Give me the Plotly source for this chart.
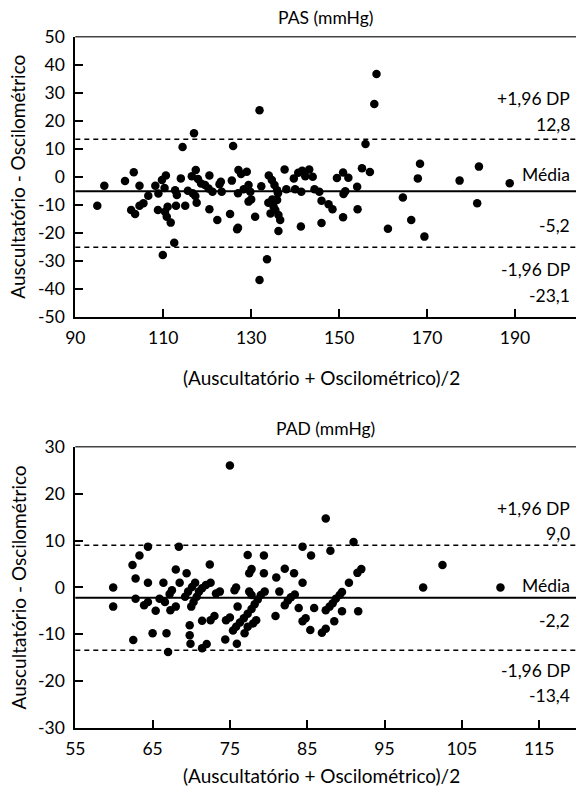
import plotly.graph_objects as go

W, H = 576, 793
FONT = "Lato"
FS = 17.5

# ---- PAS (systolic) : mean of methods vs difference ----
pas_x = [95.0, 96.6, 101.3, 102.7, 103.3, 103.6, 104.6, 104.6, 105.5, 106.6,
         108.2, 108.8, 108.9, 109.7, 110.3, 110.6, 110.4, 111.0, 110.8, 111.7,
         112.5, 109.9, 112.7, 113.1, 112.9, 114.0, 114.4, 115.0, 115.6, 116.5,
         116.7, 117.0, 117.4, 117.3, 117.6, 117.9, 118.6, 119.5, 120.3, 120.5,
         120.5, 121.2, 122.3, 123.1, 123.3, 125.2, 125.6, 125.9, 126.8, 127.0,
         127.1, 127.7, 127.0, 128.3, 129.0, 129.4, 129.8, 129.4, 130.0, 130.9,
         131.9, 131.9, 132.3, 133.6, 134.0, 134.7, 135.3, 135.9, 136.1, 133.9,
         134.8, 135.9, 135.1, 134.4, 135.5, 136.2, 136.6, 136.2, 137.6, 138.0,
         139.7, 140.7, 141.6, 142.3, 143.2, 144.0, 140.0, 141.4, 141.3, 144.4,
         145.5, 146.0, 147.6, 148.5, 146.0, 149.5, 150.9, 151.0, 151.4, 152.1,
         150.9, 154.2, 154.1, 155.2, 156.0, 157.0, 158.0, 158.5, 161.1, 164.5,
         166.4, 167.9, 168.4, 169.4, 177.4, 181.4, 181.8, 188.8, 122.8]
pas_y = [-10.4, -3.2, -1.5, -11.9, 1.6, -13.3, -3.2, -10.4, -9.5, -6.8,
         -3.2, -11.9, -6.0, -1.2, -4.0, 0.4, -12.5, -10.7, -14.3, -16.4,
         -23.6, -28.0, -4.8, -6.5, -10.4, -0.6, 10.6, -10.4, -5.0, 0.2,
         -5.9, 15.5, 2.4, -6.9, -9.3, -0.8, -2.4, -3.0, -4.2, 0.4,
         -11.6, -5.4, -15.5, -1.8, -5.4, -13.3, -1.4, 11.0, -18.8, -18.2,
         2.4, 1.0, -5.9, -4.5, 1.8, -3.0, -5.4, -8.9, -8.1, -14.3,
         23.7, -36.9, -3.4, -29.5, 0.4, -1.2, -3.0, -4.8, -5.9, -9.3,
         -8.1, -8.3, -10.7, -13.1, -11.9, -13.7, -15.5, -19.4, 2.6, -4.5,
         -0.6, 1.4, 2.1, 0.2, 2.6, 0.0, -4.5, -5.4, -17.8, -4.5,
         -5.4, -8.6, -9.8, -11.6, -16.5, -0.5, 1.5, -6.2, -5.2, -0.4,
         -14.5, -11.6, -3.6, 3.0, 11.7, 1.7, 26.0, 36.7, -18.6, -7.4,
         -15.5, -0.6, 4.6, -21.4, -1.4, -9.5, 3.6, -2.3, -2.7]

# ---- PAD (diastolic) ----
pad_x = [59.9, 59.9, 62.4, 62.5, 62.8, 62.8, 63.3, 63.9, 64.4, 64.4,
         64.4, 65.0, 65.4, 65.9, 66.4, 66.6, 66.8, 67.0, 67.2, 67.5,
         67.3, 68.0, 68.0, 68.4, 68.5, 69.4, 69.2, 69.6, 70.1, 70.5,
         70.0, 70.3, 70.7, 71.0, 71.4, 71.9, 72.5, 72.4, 69.8, 69.8,
         69.9, 71.4, 72.5, 73.0, 71.4, 72.0, 73.2, 73.7, 74.4, 74.5,
         75.0, 75.0, 75.6, 75.8, 76.0, 75.9, 75.4, 75.8, 76.3, 76.8,
         77.3, 77.8, 78.2, 78.6, 79.0, 79.5, 76.9, 77.3, 78.0, 78.4,
         77.5, 77.8, 77.3, 77.8, 77.5, 79.4, 79.4, 81.0, 82.1, 83.3,
         80.9, 81.4, 82.1, 82.5, 82.9, 83.4, 83.9, 84.4, 84.4, 85.5,
         84.4, 84.8, 85.4, 85.9, 86.9, 87.4, 87.4, 87.9, 88.3, 88.7,
         89.2, 89.5, 88.5, 89.5, 87.4, 88.0, 90.4, 91.0, 91.5, 92.0,
         91.6, 100.0, 102.5, 110.0]
pad_y = [0.0, -4.1, 4.8, -11.2, 1.9, -2.4, 6.8, -3.8, -3.1, 8.7,
         1.0, -9.8, -5.0, -2.4, 1.0, -3.1, -9.8, -13.8, -1.4, -0.6,
         -4.9, -4.1, 3.8, 8.7, 1.0, 3.0, -2.0, -0.9, 0.1, 1.0,
         -4.1, -3.1, -2.0, -0.9, -0.2, 0.5, 1.0, 4.9, -8.1, -10.2,
         -12.0, -7.1, -7.0, -6.1, -13.0, -12.1, -1.3, -0.9, -11.1, -7.0,
         -6.4, 26.0, -0.6, 0.0, -4.1, -12.0, -9.2, -8.4, -7.5, -6.6,
         -5.6, -4.6, -3.6, -2.6, -1.6, -0.9, -9.8, -8.4, -7.7, -7.0,
         -0.9, -1.6, 6.9, 3.9, 3.0, 6.8, 3.0, 2.1, 4.0, 3.0,
         -6.1, -0.9, -3.8, -2.8, -2.1, -1.5, -4.4, 1.0, 8.7, 6.8,
         -7.2, -6.6, -9.1, -4.4, -9.7, -8.8, -4.9, -4.1, -3.4, -2.4,
         -1.6, -1.0, -7.2, -5.1, 14.7, 7.8, 1.0, 9.7, 3.1, 3.9,
         -5.1, 0.0, 4.8, 0.0]

# reference lines as drawn (mean, upper, lower)
pas_lines = [-5.2, 13.4, -25.2]
pad_lines = [-2.2, 9.0, -13.4]

pas_labels = ["+1,96 DP", "12,8", "Média", "-5,2", "-1,96 DP", "-23,1"]
pad_labels = ["+1,96 DP", "9,0", "Média", "-2,2", "-1,96 DP", "-13,4"]

pas_xticks = [90, 110, 130, 150, 170, 190]
pas_yticks = [50, 40, 30, 20, 10, 0, -10, -20, -30, -40, -50]
pad_xticks = [55, 65, 75, 85, 95, 105, 115]
pad_yticks = [30, 20, 10, 0, -10, -20, -30]

titles = ["PAS (mmHg)", "PAD (mmHg)"]
xtitle = "(Auscultatório + Oscilométrico)/2"
ytitle = "Auscultatório - Oscilométrico"


def fx(p):  # page pixel -> paper fraction
    return p / W


def fy(p):
    return 1 - p / H


LEFT = 75.3
panels = [
    dict(top=36.7, bot=316.7, xr=[90, 90 + (W - LEFT) / 4.397], yr=[-50, 50],
         xt=pas_xticks, yt=pas_yticks, lines=pas_lines, labels=pas_labels,
         label_py=[99, 124.3, 174.3, 225, 269.3, 295],
         title_py=18, xtitle_py=377, x=pas_x, y=pas_y),
    dict(top=446.8, bot=728, xr=[55, 55 + (W - LEFT) / 7.73], yr=[-30, 30],
         xt=pad_xticks, yt=pad_yticks, lines=pad_lines, labels=pad_labels,
         label_py=[508.3, 533.3, 585, 620, 670, 695],
         title_py=428, xtitle_py=775, x=pad_x, y=pad_y),
]

fig = go.Figure()
layout = dict(width=W, height=H, margin=dict(l=0, r=0, t=0, b=0, autoexpand=False),
              paper_bgcolor="white", plot_bgcolor="white", showlegend=False,
              font=dict(family=FONT, size=FS, color="black"))
shapes, annots = [], []
tf = dict(family=FONT, size=FS, color="black")
tf_axis_title = dict(family=FONT, size=19, color="black")

for i, p in enumerate(panels):
    k = "" if i == 0 else str(i + 1)
    xa, ya = "x" + k, "y" + k
    fig.add_trace(go.Scatter(x=p["x"], y=p["y"], mode="markers", xaxis=xa, yaxis=ya,
                             marker=dict(color="black", size=8.5, line=dict(width=0))))
    axis_common = dict(showgrid=False, zeroline=False, showline=True, linecolor="black",
                       linewidth=2, ticks="inside", ticklen=8, tickwidth=1.5, automargin=False,
                       tickcolor="black", tickfont=tf)
    layout["xaxis" + k] = dict(axis_common, domain=[fx(LEFT), 1], range=p["xr"],
                               tickvals=p["xt"], ticktext=[str(v) for v in p["xt"]],
                               anchor=ya, ticklabelstandoff=4)
    layout["yaxis" + k] = dict(axis_common, domain=[fy(p["bot"]), fy(p["top"])], range=p["yr"],
                               tickvals=p["yt"], ticktext=[str(v) for v in p["yt"]],
                               anchor=xa, ticklabelstandoff=5)
    # top border
    shapes.append(dict(type="line", xref=xa + " domain", yref=ya + " domain", x0=0, x1=1,
                       y0=1, y1=1, line=dict(color="#444", width=1.5)))
    mean, up, lo = p["lines"]
    shapes.append(dict(type="line", xref=xa + " domain", yref=ya, x0=0, x1=1, y0=mean, y1=mean,
                       line=dict(color="black", width=2)))
    for v in (up, lo):
        shapes.append(dict(type="line", xref=xa + " domain", yref=ya, x0=0, x1=1, y0=v, y1=v,
                           line=dict(color="black", width=1.6, dash="5px,4px")))
    for txt, py in zip(p["labels"], p["label_py"]):
        annots.append(dict(text=txt, xref="paper", yref="paper", x=fx(572), y=fy(py),
                           xanchor="right", yanchor="middle", showarrow=False, font=tf))
    annots.append(dict(text=titles[i], xref="paper", yref="paper", x=fx(325), y=fy(p["title_py"]),
                       xanchor="center", yanchor="middle", showarrow=False, font=tf))
    annots.append(dict(text=xtitle, xref="paper", yref="paper", x=fx(321), y=fy(p["xtitle_py"]),
                       xanchor="center", yanchor="middle", showarrow=False, font=tf_axis_title))
    annots.append(dict(text=ytitle, xref="paper", yref="paper", x=fx(18),
                       y=fy((p["top"] + p["bot"]) / 2), textangle=-90,
                       xanchor="center", yanchor="middle", showarrow=False, font=tf_axis_title))

layout["shapes"] = shapes
layout["annotations"] = annots
fig.update_layout(**layout)

fix_page = ("document.documentElement.style.margin='0px';"
            "document.documentElement.style.overflow='hidden';"
            "document.body.style.margin='0px';"
            "document.body.style.overflow='hidden';"
            "window.scrollTo(0,0);")
fig.write_html("out.html", config={"responsive": False, "displayModeBar": False},
               post_script=fix_page)
